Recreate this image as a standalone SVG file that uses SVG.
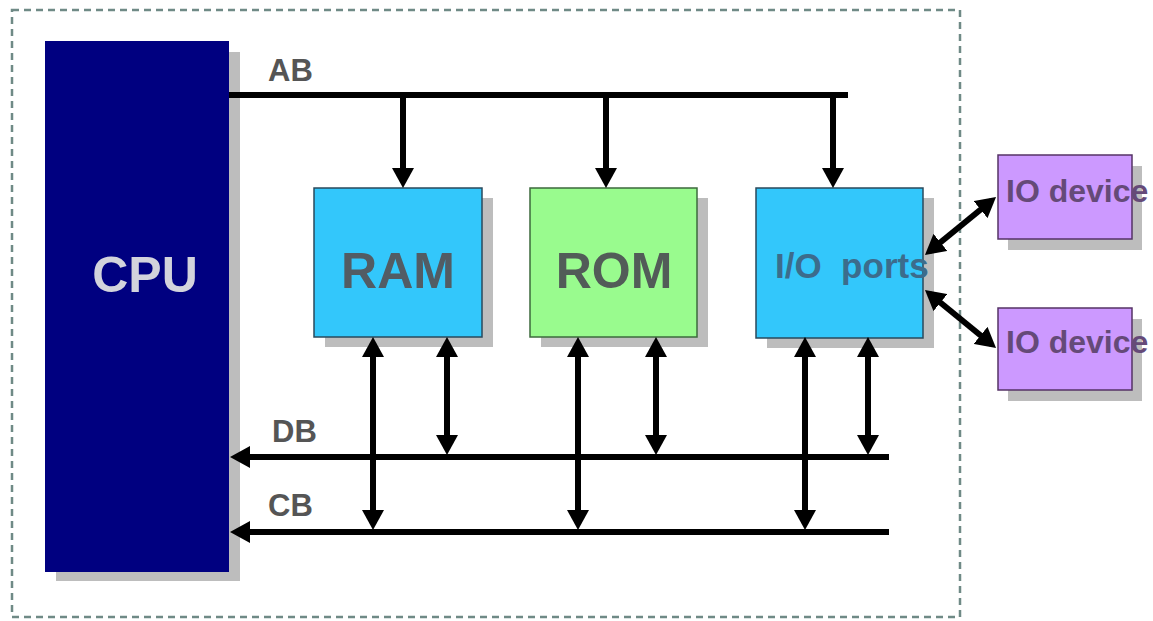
<svg xmlns="http://www.w3.org/2000/svg" width="1153" height="621" viewBox="0 0 1153 621">
<style>
.shadow{fill:#bdbdbd}
.lbl{font-family:"Liberation Sans",Arial,sans-serif;font-weight:bold;fill:#555555}
.bus{stroke:#000;stroke-width:6;fill:none}
.bus2{stroke:#000;stroke-width:6;fill:none;marker-start:url(#ah);marker-end:url(#ah)}
.one{stroke:#000;stroke-width:6;fill:none;marker-end:url(#ah)}
</style>
<defs>
<marker id="ah" viewBox="0 0 20 22" markerWidth="20" markerHeight="22" refX="14" refY="11" orient="auto-start-reverse" markerUnits="userSpaceOnUse">
<path d="M0,0 L20,11 L0,22 z" fill="#000"/>
</marker>
</defs>
<rect width="1153" height="621" fill="#fff"/>
<rect x="12" y="10" width="948" height="607" fill="none" stroke="#6f8a86" stroke-width="2.5" stroke-dasharray="7,5"/>

<g id="cpu">
<rect class="shadow" x="56" y="52" width="184" height="529"/>
<rect x="45" y="41" width="184" height="531" fill="#000080"/>
<text x="145" y="292" text-anchor="middle" class="lbl" style="fill:#d2d3dc;font-size:50px">CPU</text>
</g>

<g id="ram">
<rect class="shadow" x="325" y="198" width="168" height="149"/>
<rect x="314" y="188" width="168" height="149" fill="#33c7fb" stroke="#2a4a5c" stroke-width="1.5"/>
<text x="398" y="288" text-anchor="middle" class="lbl" style="fill:#525c64;font-size:50px">RAM</text>
</g>

<g id="rom">
<rect class="shadow" x="541" y="198" width="167" height="149"/>
<rect x="530" y="188" width="167" height="149" fill="#99fb8e" stroke="#3d6a3d" stroke-width="1.5"/>
<text x="614" y="288" text-anchor="middle" class="lbl" style="fill:#525c58;font-size:50px">ROM</text>
</g>

<g id="io">
<rect class="shadow" x="767" y="198" width="167" height="150"/>
<rect x="756" y="188" width="167" height="150" fill="#33c7fb" stroke="#2a4a5c" stroke-width="1.5"/>
<text x="775" y="278" class="lbl" style="fill:#3c6c8c;font-size:35px" xml:space="preserve">I/O  ports</text>
</g>

<g id="dev1">
<rect class="shadow" x="1008" y="166" width="134" height="84"/>
<rect x="998" y="155" width="134" height="84" fill="#cc99ff" stroke="#553366" stroke-width="1.5"/>
<text x="1006" y="202" class="lbl" style="fill:#654a78;font-size:32px">IO device</text>
</g>

<g id="dev2">
<rect class="shadow" x="1008" y="319" width="134" height="82"/>
<rect x="998" y="308" width="134" height="82" fill="#cc99ff" stroke="#553366" stroke-width="1.5"/>
<text x="1006" y="353" class="lbl" style="fill:#654a78;font-size:32px">IO device</text>
</g>

<g id="connectors">
<line class="bus" x1="229" y1="95" x2="848" y2="95"/>
<line class="one" x1="403" y1="95" x2="403" y2="182"/>
<line class="one" x1="606" y1="95" x2="606" y2="182"/>
<line class="one" x1="833" y1="95" x2="833" y2="182"/>

<line class="one" x1="889" y1="457" x2="236" y2="457"/>
<line class="one" x1="889" y1="532" x2="236" y2="532"/>

<line class="bus2" x1="373" y1="343" x2="373" y2="524"/>
<line class="bus2" x1="447" y1="343" x2="447" y2="449"/>
<line class="bus2" x1="578" y1="343" x2="578" y2="524"/>
<line class="bus2" x1="656" y1="343" x2="656" y2="449"/>
<line class="bus2" x1="805" y1="343" x2="805" y2="524"/>
<line class="bus2" x1="868" y1="343" x2="868" y2="449"/>

<line class="bus2" x1="929.6" y1="251.2" x2="991.4" y2="200.8"/>
<line class="bus2" x1="929.6" y1="293.8" x2="991.4" y2="344.2"/>
</g>

<text x="268" y="81" class="lbl" style="font-size:31px">AB</text>
<text x="272" y="442" class="lbl" style="font-size:31px">DB</text>
<text x="268" y="516" class="lbl" style="font-size:31px">CB</text>
</svg>
